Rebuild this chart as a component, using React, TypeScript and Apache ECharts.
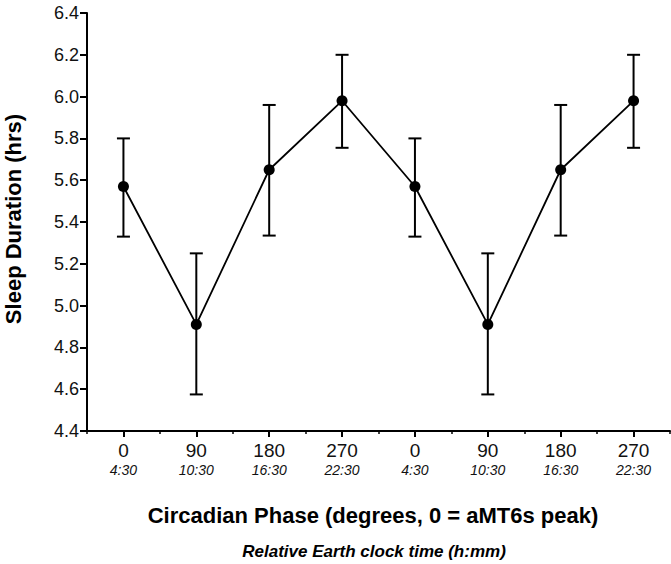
import React, { useEffect, useRef } from "react";
import * as echarts from "echarts";

const phases = ["0", "90", "180", "270", "0", "90", "180", "270"];
const clockTimes = ["4:30", "10:30", "16:30", "22:30", "4:30", "10:30", "16:30", "22:30"];
const sleepMean = [5.57, 4.91, 5.65, 5.98, 5.57, 4.91, 5.65, 5.98];
const errLow = [5.33, 4.575, 5.335, 5.755, 5.33, 4.575, 5.335, 5.755];
const errHigh = [5.8, 5.25, 5.96, 6.2, 5.8, 5.25, 5.96, 6.2];
const yTicks = { min: 4.4, max: 6.4, interval: 0.2 };

const FONT = "'Liberation Sans', Arial, sans-serif";

export default function App() {
  const ref = useRef<HTMLDivElement>(null);
  useEffect(() => {
    if (!ref.current) return;
    const chart = echarts.init(ref.current, null, { renderer: "svg" });
    const idx = phases.map((_, i) => String(i));
    chart.setOption({
      animation: false,
      backgroundColor: "#fff",
      grid: { left: 87, right: 1, top: 13, bottom: 133, containLabel: false },
      xAxis: [
        {
          type: "category",
          data: idx,
          boundaryGap: true,
          axisLine: { show: true, lineStyle: { color: "#000", width: 2 } },
          axisTick: { show: true, alignWithLabel: true, length: 6, lineStyle: { color: "#000", width: 2 } },
          axisLabel: {
            margin: 8,
            interval: 0,
            formatter: (v: string) => {
              const i = Number(v);
              return `{a|${phases[i]}}\n{b|${clockTimes[i]}}`;
            },
            rich: {
              a: { fontFamily: FONT, fontSize: 19, color: "#111", lineHeight: 22 },
              b: { fontFamily: FONT, fontSize: 14, fontStyle: "italic", color: "#111", lineHeight: 18 },
            },
          },
          splitLine: { show: false },
        },
        {
          type: "category",
          data: idx,
          boundaryGap: true,
          position: "bottom",
          axisLine: { show: false },
          axisTick: { show: true, length: 3, interval: 0, lineStyle: { color: "#000", width: 1.5 } },
          axisLabel: { show: false },
          splitLine: { show: false },
        },
      ],
      yAxis: {
        type: "value",
        min: yTicks.min,
        max: yTicks.max,
        interval: yTicks.interval,
        axisLine: { show: true, lineStyle: { color: "#000", width: 2 } },
        axisTick: { show: true, length: 7, lineStyle: { color: "#000", width: 2 } },
        axisLabel: {
          margin: 8,
          fontFamily: FONT,
          fontSize: 18,
          color: "#111",
          formatter: (v: number) => v.toFixed(1),
        },
        splitLine: { show: false },
      },
      graphic: [
        {
          type: "text",
          x: 13,
          y: 219,
          rotation: Math.PI / 2,
          style: {
            text: "Sleep Duration (hrs)",
            font: `bold 22px ${FONT}`,
            fill: "#000",
            align: "center",
            verticalAlign: "middle",
          },
        },
        {
          type: "text",
          x: 373,
          y: 515,
          style: {
            text: "Circadian Phase (degrees, 0 = aMT6s peak)",
            font: `bold 22px ${FONT}`,
            fill: "#000",
            align: "center",
            verticalAlign: "middle",
          },
        },
        {
          type: "text",
          x: 374,
          y: 551,
          style: {
            text: "Relative Earth clock time (h:mm)",
            font: `italic bold 17px ${FONT}`,
            fill: "#000",
            align: "center",
            verticalAlign: "middle",
          },
        },
      ],
      series: [
        {
          type: "custom",
          xAxisIndex: 0,
          data: idx.map((_, i) => [i, errLow[i], errHigh[i]]),
          renderItem: (params: any, api: any) => {
            const x = api.value(0);
            const lo = api.coord([x, api.value(1)]);
            const hi = api.coord([x, api.value(2)]);
            const cap = 6.5;
            const st = { stroke: "#000", lineWidth: 2 };
            return {
              type: "group",
              children: [
                { type: "line", shape: { x1: lo[0], y1: lo[1], x2: hi[0], y2: hi[1] }, style: st },
                { type: "line", shape: { x1: lo[0] - cap, y1: lo[1], x2: lo[0] + cap, y2: lo[1] }, style: st },
                { type: "line", shape: { x1: hi[0] - cap, y1: hi[1], x2: hi[0] + cap, y2: hi[1] }, style: st },
              ],
            };
          },
          z: 2,
        },
        {
          type: "line",
          xAxisIndex: 0,
          data: idx.map((_, i) => [i, sleepMean[i]]),
          symbol: "circle",
          symbolSize: 11,
          itemStyle: { color: "#000" },
          lineStyle: { color: "#000", width: 1.8 },
          z: 3,
        },
      ],
    });
    return () => chart.dispose();
  }, []);
  return (
    <div
      ref={ref}
      style={{ position: "fixed", left: 0, top: 0, width: 671, height: 564, background: "#fff" }}
    />
  );
}
